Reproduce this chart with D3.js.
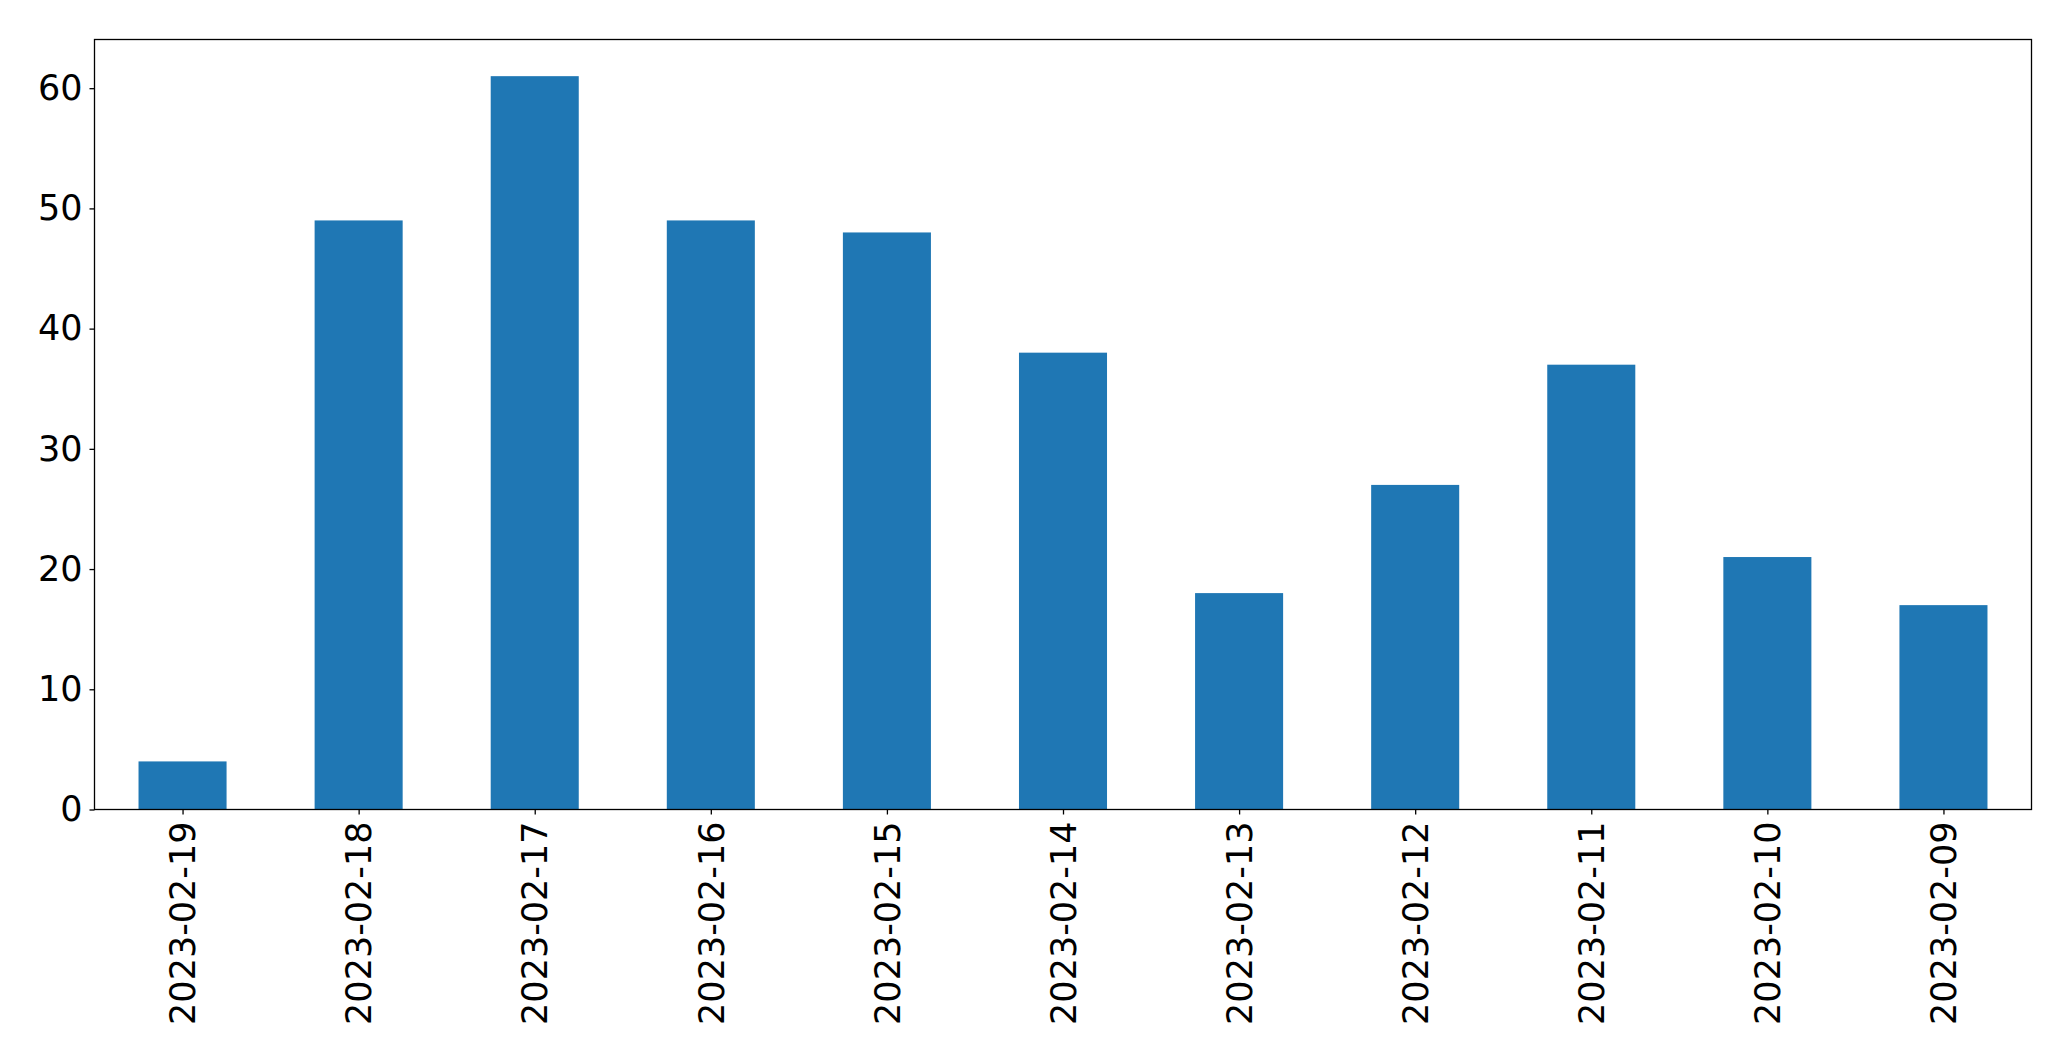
<!DOCTYPE html>
<html><head><meta charset="utf-8">
<script src="https://cdn.jsdelivr.net/npm/d3@7"></script>
<style>body{margin:0;background:#fff}svg{display:block}</style>
</head><body>
<script>
const categories = ["2023-02-19","2023-02-18","2023-02-17","2023-02-16","2023-02-15","2023-02-14","2023-02-13","2023-02-12","2023-02-11","2023-02-10","2023-02-09"];
const values = [4,49,61,49,48,38,18,27,37,21,17];
const yTicks = [0,10,20,30,40,50,60];

const W = 2071, H = 1061;
const m = {left: 94.5, top: 39.5, right: 2031.5, bottom: 809.5};
const svg = d3.select("body").append("svg").attr("width", W).attr("height", H);

const x = d3.scaleLinear().domain([-0.5, categories.length - 0.5]).range([m.left, m.right]);
const y = d3.scaleLinear().domain([0, d3.max(values) * 1.05]).range([m.bottom, m.top]);
const fs = 35;

svg.append("g").selectAll("rect").data(values).join("rect")
  .attr("x", (d, i) => x(i - 0.25))
  .attr("width", (d, i) => x(i + 0.25) - x(i - 0.25))
  .attr("y", d => y(d))
  .attr("height", d => y(0) - y(d))
  .attr("fill", "#1f77b4");

const yAxis = svg.append("g").attr("transform", `translate(${m.left},0)`)
  .call(d3.axisLeft(y).tickValues(yTicks).tickSize(5).tickPadding(7).tickFormat(d3.format("d")));
yAxis.select(".domain").remove();
yAxis.selectAll("line").attr("stroke", "#000").attr("stroke-width", 1.3);
yAxis.selectAll("text").attr("font-family", "DejaVu Sans").attr("font-size", fs).attr("fill", "#000");

const xAxis = svg.append("g").attr("transform", `translate(0,${m.bottom})`)
  .call(d3.axisBottom(x).tickValues(d3.range(categories.length)).tickSize(5).tickFormat(i => categories[i]));
xAxis.select(".domain").remove();
xAxis.selectAll("line").attr("stroke", "#000").attr("stroke-width", 1.3);
xAxis.selectAll("text")
  .attr("font-family", "DejaVu Sans").attr("font-size", fs).attr("fill", "#000")
  .attr("transform", "rotate(-90)")
  .attr("x", -12).attr("y", 0).attr("dy", "0.35em")
  .attr("text-anchor", "end");

svg.append("rect").attr("x", m.left).attr("y", m.top)
  .attr("width", m.right - m.left).attr("height", m.bottom - m.top)
  .attr("fill", "none").attr("stroke", "#000").attr("stroke-width", 1.3);
</script>
</body></html>
